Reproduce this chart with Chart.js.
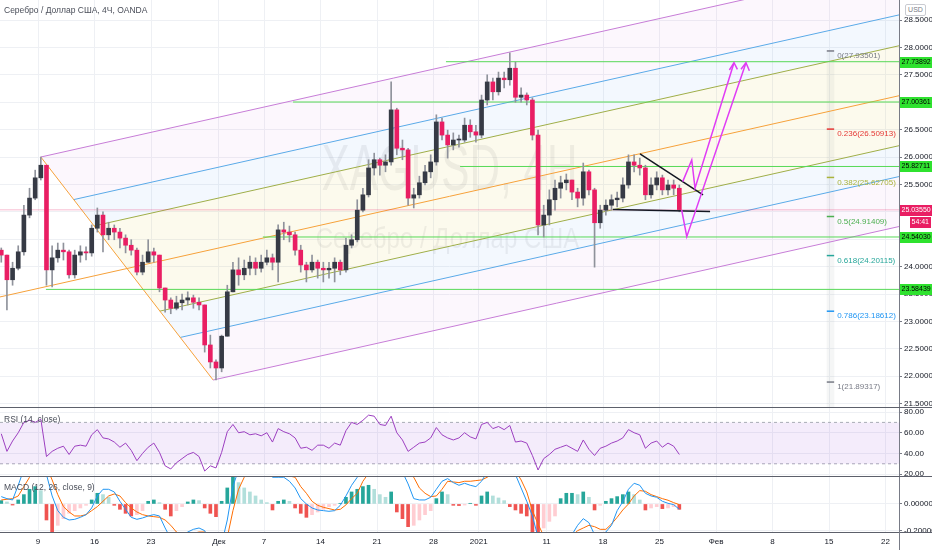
<!DOCTYPE html>
<html>
<head>
<meta charset="utf-8">
<script src="https://cdn.jsdelivr.net/npm/chart.js@4.4.1/dist/chart.umd.min.js"></script>
<style>
  body { margin: 0; background: #fff; }
  #wrap { position: relative; width: 932px; height: 550px; overflow: hidden;
          font-family: 'Liberation Sans Narrow', 'Liberation Sans', Arial, sans-serif; color: #131722; }
  canvas { position: absolute; left: 0; }
  .sep { position: absolute; left: 0; width: 932px; height: 1px; background: #5d606b; }
  .pane-title { position: absolute; left: 4px; font-size: 8.5px; color: #4a4e59; white-space: nowrap; }
  #usd { position: absolute; left: 905px; top: 4px; width: 19px; height: 10px; border: 1px solid #c9cbd1;
         border-radius: 2px; font-size: 7px; line-height: 10px; text-align: center; color: #787b86; background: #fff; }
</style>
</head>
<body>
<div id="wrap">
  <canvas id="priceChart" width="932" height="407" style="top:0px"></canvas>
  <canvas id="rsiChart" width="932" height="68" style="top:408px"></canvas>
  <canvas id="macdChart" width="932" height="73" style="top:477px"></canvas>
  <div class="sep" style="top:407px"></div>
  <div class="sep" style="top:476px"></div>
  <div class="sep" style="top:532px"></div>
  <div style="position:absolute;left:899px;top:532px;width:1px;height:18px;background:#787b86"></div>
  <div class="pane-title" style="top:5px">Серебро / Доллар США, 4Ч, OANDA</div>
  <div class="pane-title" style="top:414px">RSI (14, close)</div>
  <div class="pane-title" style="top:482px">MACD (12, 26, close, 9)</div>
  <div id="usd">USD</div>
</div>
<script>
// Time axis is a trading-day index: 0 = Mon 9 Nov 2020, weekends collapsed
const X_MIN = -3.363;
const X_MAX = 76.19;
const FIRST_BAR = -3.25;
const BAR_STEP = 0.5;

const weekTicks = [0, 5, 10, 16, 20, 25, 30, 35, 39, 45, 50, 55, 60, 65, 70, 75];
const weekLabels = ['9', '16', '23', 'Дек', '7', '14', '21', '28', '2021', '11', '18', '25', 'Фев', '8', '15', '22'];

// XAGUSD candles (half-day bars)
const closes = [
  24.21, 23.76, 23.97, 24.27, 24.94, 25.25, 25.62, 25.85, 23.94, 24.16,
  24.30, 24.27, 23.85, 24.21, 24.27, 24.25, 24.70, 24.94, 24.58, 24.70,
  24.63, 24.52, 24.39, 24.30, 23.90, 24.08, 24.27, 24.21, 23.61, 23.39,
  23.24, 23.34, 23.39, 23.43, 23.35, 23.30, 22.57, 22.26, 22.15, 22.73,
  23.54, 23.94, 23.85, 23.97, 24.08, 23.97, 24.08, 24.16, 24.08, 24.67,
  24.63, 24.58, 24.30, 24.03, 23.94, 24.08, 23.97, 23.94, 23.97, 24.08,
  23.94, 24.39, 24.49, 25.03, 25.31, 25.80, 25.95, 25.85, 25.91, 26.86,
  26.16, 26.13, 25.25, 25.31, 25.53, 25.73, 25.91, 26.64, 26.40, 26.22,
  26.31, 26.31, 26.58, 26.46, 26.40, 27.04, 27.37, 27.19, 27.44, 27.41,
  27.62, 27.09, 27.13, 27.04, 26.40, 24.76, 24.94, 25.22, 25.43, 25.53,
  25.58, 25.36, 25.25, 25.73, 25.40, 24.80, 25.03, 25.12, 25.22, 25.25,
  25.49, 25.91, 25.85, 25.80, 25.31, 25.49, 25.62, 25.40, 25.49, 25.43,
  25.04
];
const highs = [
  24.34, 24.21, 24.08, 24.38, 25.12, 25.43, 25.76, 26.00, 25.85, 24.38,
  24.43, 24.43, 24.30, 24.30, 24.38, 24.36, 24.76, 25.07, 25.00, 24.81,
  24.76, 24.70, 24.58, 24.49, 24.34, 24.21, 24.49, 24.34, 24.21, 23.61,
  23.43, 23.46, 23.50, 23.54, 23.48, 23.43, 23.30, 22.75, 22.30, 22.75,
  23.66, 24.08, 24.16, 24.12, 24.19, 24.16, 24.21, 24.30, 24.23, 24.76,
  24.81, 24.74, 24.63, 24.39, 24.08, 24.21, 24.12, 24.08, 24.08, 24.16,
  24.12, 24.52, 24.58, 25.22, 25.43, 25.95, 26.07, 25.98, 26.04, 27.37,
  26.89, 26.31, 26.16, 25.43, 25.65, 25.85, 26.04, 26.77, 26.71, 26.49,
  26.44, 26.40, 26.71, 26.68, 26.58, 27.13, 27.50, 27.44, 27.55, 27.55,
  27.90, 27.73, 27.26, 27.17, 27.08, 26.49, 25.12, 25.40, 25.58, 25.65,
  25.69, 25.58, 25.43, 25.89, 25.76, 25.43, 25.12, 25.22, 25.31, 25.36,
  25.62, 26.04, 26.04, 25.98, 25.85, 25.62, 25.73, 25.67, 25.58, 25.58,
  25.49
];
const lows = [
  24.08, 23.21, 23.66, 23.94, 24.21, 24.89, 25.22, 25.58, 23.66, 23.63,
  24.08, 24.12, 23.79, 23.79, 24.08, 24.12, 24.19, 24.63, 24.27, 24.49,
  24.49, 24.34, 24.25, 24.21, 23.85, 23.85, 24.08, 24.08, 23.54, 23.17,
  23.14, 23.21, 23.21, 23.30, 23.24, 23.21, 22.44, 22.15, 21.93, 22.08,
  22.73, 23.54, 23.66, 23.76, 23.85, 23.85, 23.90, 24.03, 23.94, 23.72,
  24.49, 24.45, 24.21, 23.90, 23.72, 23.90, 23.79, 23.72, 23.79, 23.72,
  23.85, 23.90, 24.34, 24.45, 25.00, 25.27, 25.67, 25.67, 25.73, 25.85,
  26.04, 25.95, 25.12, 25.07, 25.25, 25.49, 25.62, 25.85, 26.31, 25.98,
  26.13, 26.18, 26.27, 26.36, 26.27, 26.35, 26.95, 27.04, 27.13, 27.26,
  27.31, 27.00, 27.00, 26.95, 26.31, 24.58, 24.54, 24.76, 25.03, 25.25,
  25.40, 25.22, 25.09, 25.12, 25.31, 23.99, 24.70, 24.94, 25.03, 25.09,
  25.18, 25.43, 25.73, 25.67, 25.22, 25.25, 25.40, 25.31, 25.31, 25.31,
  25.00
];
const FIRST_OPEN = 24.30;
const opens = [FIRST_OPEN, ...closes.slice(0, -1)];   // forex bars open at the prior close
const LAST_PRICE = 25.0355;
const COUNTDOWN = '54:41';

// RSI (14, close)
const rsiValues = [
  59, 42, 52, 60, 70, 72, 70, 73, 37, 42,
  45, 47, 39, 47, 48, 47, 58, 63, 55, 54,
  51, 46, 50, 43, 33, 40, 46, 50, 41, 28,
  25, 31, 35, 39, 41, 37, 23, 28, 26, 41,
  61, 68, 60, 61, 58, 59, 57, 60, 51, 64,
  61, 59, 55, 45, 46, 43, 48, 48, 45, 50,
  48, 62, 70, 68, 72, 77, 76, 68, 67, 76,
  60, 53, 42, 46, 50, 51, 55, 65, 58, 55,
  53, 55, 60, 56, 54, 68, 70, 64, 66, 63,
  67, 51, 52, 50, 38, 24, 35, 39, 44, 46,
  48, 45, 42, 53, 44, 38, 45, 47, 50, 52,
  55, 63, 60, 58, 45, 50, 52, 46, 50, 47,
  39
];
const rsiBand = [30, 70];

// MACD (12, 26, close, 9)
const macdValues = [
  0.055, 0.04, 0.03, 0.14, 0.26, 0.33, 0.37, 0.38, 0.22, 0.06,
  -0.05, -0.1, -0.12, -0.115, -0.1, -0.08, -0.03, 0.06, 0.11, 0.11,
  0.09, 0.02, -0.04, -0.1, -0.115, -0.105, -0.09, -0.08, -0.09, -0.18,
  -0.26, -0.28, -0.25, -0.21, -0.19, -0.18, -0.2, -0.3, -0.36, -0.3,
  -0.12, 0.13, 0.26, 0.32, 0.35, 0.34, 0.31, 0.26, 0.2, 0.2,
  0.2, 0.17, 0.12, 0.04, 0.0, -0.03, -0.045, -0.05, -0.055, -0.05,
  -0.01, 0.06, 0.14, 0.2, 0.27, 0.33, 0.36, 0.37, 0.36, 0.4,
  0.34, 0.24, 0.15, 0.04, 0.03, 0.03, 0.05, 0.11, 0.17, 0.19,
  0.16, 0.14, 0.155, 0.14, 0.13, 0.17, 0.24, 0.28, 0.3, 0.31,
  0.3, 0.22, 0.12, 0.02, -0.09, -0.25, -0.33, -0.36, -0.35, -0.3,
  -0.26, -0.23, -0.16, -0.11, -0.14, -0.23, -0.25, -0.21, -0.16, -0.05,
  0.017, 0.11, 0.155, 0.14, 0.08, 0.06, 0.05, 0.02, 0.005, -0.005,
  -0.04
];
const signalValues = [
  0.03, 0.035, 0.04, 0.06, 0.13, 0.2, 0.26, 0.3, 0.28, 0.18,
  0.07, -0.02, -0.06, -0.09, -0.09, -0.08, -0.05, -0.02, 0.02, 0.06,
  0.075, 0.06, 0.01, -0.03, -0.06, -0.08, -0.09, -0.095, -0.1, -0.12,
  -0.16, -0.21, -0.23, -0.23, -0.22, -0.21, -0.21, -0.23, -0.27, -0.29,
  -0.25, -0.05, 0.11, 0.2, 0.25, 0.28, 0.29, 0.28, 0.25, 0.23,
  0.22, 0.21, 0.2, 0.13, 0.08, 0.02, -0.01, -0.025, -0.035, -0.045,
  -0.04, -0.007, 0.04, 0.08, 0.17, 0.23, 0.28, 0.31, 0.33, 0.35,
  0.34, 0.3, 0.24, 0.2, 0.12, 0.08, 0.055, 0.06, 0.11, 0.17,
  0.165, 0.16, 0.17, 0.17, 0.175, 0.18, 0.2, 0.23, 0.26, 0.28,
  0.29, 0.25, 0.18, 0.09, -0.05, -0.15, -0.24, -0.29, -0.31, -0.3,
  -0.28, -0.24, -0.2, -0.18, -0.16, -0.17, -0.19, -0.19, -0.15, -0.1,
  -0.045, 0.0, 0.06, 0.1, 0.095, 0.07, 0.055, 0.04, 0.028, 0.01,
  -0.005
];
const histValues = [
  0.025, 0.015, -0.008, 0.03, 0.07, 0.11, 0.13, 0.10, -0.12, -0.21,
  -0.16, -0.11, -0.07, -0.05, -0.03, -0.01, 0.03, 0.08, 0.07, 0.05,
  -0.01, -0.04, -0.07, -0.09, -0.08, -0.05, 0.02, 0.03, 0.01, -0.04,
  -0.09, -0.05, -0.02, 0.015, 0.03, 0.025, -0.03, -0.07, -0.095, 0.02,
  0.12, 0.2, 0.16, 0.12, 0.09, 0.06, 0.03, 0.01, -0.045, 0.02,
  0.03, 0.02, -0.03, -0.07, -0.1, -0.08, -0.06, -0.04, -0.02, -0.01,
  0.005, 0.05, 0.09, 0.11, 0.13, 0.14, 0.11, 0.07, 0.05, 0.09,
  -0.06, -0.11, -0.17, -0.16, -0.12, -0.08, -0.05, 0.04, 0.09, 0.07,
  -0.01, -0.012, -0.008, 0.005, -0.01, 0.06, 0.09, 0.06, 0.045, 0.025,
  -0.02, -0.045, -0.07, -0.09, -0.21, -0.21, -0.18, -0.13, -0.09, 0.04,
  0.08, 0.08, 0.07, 0.09, 0.05, -0.045, -0.01, 0.02, 0.04, 0.055,
  0.07, 0.09, 0.07, 0.03, -0.045, -0.03, -0.02, -0.035, -0.03, -0.02,
  -0.04
];

// Axis ticks
const priceTicks = [21.5, 22, 22.5, 23, 23.5, 24, 24.5, 25, 25.5, 26, 26.5, 27, 27.5, 28, 28.5];
const rsiTicks = [20, 40, 60, 80];
const macdTicks = [-0.2, 0];
const PRICE_MIN = 21.438, PRICE_MAX = 28.865;
const RSI_MIN = 18.2, RSI_MAX = 83.9;
const MACD_MIN = -0.21, MACD_MAX = 0.202;

// Drawings: [trading day, price]
const pfHandle = [-10, 23.14];
const pfA = [0.25, 26.00];
const pfB = [15.5, 21.93];
const pfLevels = [0, 0.382, 0.618, 1];

const levelPrices = [27.73892, 27.00361, 25.82711, 24.54030, 23.58439];
const levelStarts = [36.1, 22.57, 37.35, 19.9, 0.7];

const fibRatios = ['0', '0.236', '0.382', '0.5', '0.618', '0.786', '1'];
const fibPrices = [27.93501, 26.50913, 25.62705, 24.91409, 24.20115, 23.18612, 21.89317];
const fibSpan = [69.8, 70.45];

const triangleTop = [[53.27, 26.055], [58.85, 25.307]];
const triangleBase = [[50.88, 25.042], [59.47, 25.005]];
const forecastA = [[57.05, 25.55], [57.85, 25.945], [58.14, 25.43], [61.59, 27.72]];
const forecastAHead = [[61.18, 27.588], [61.59, 27.72], [61.89, 27.60]];
const forecastB = [[56.96, 25.033], [57.41, 24.546], [62.65, 27.72]];
const forecastBHead = [[62.21, 27.60], [62.65, 27.72], [62.95, 27.575]];

// Styles
const FONT = "'Liberation Sans Narrow', 'Liberation Sans', Arial, sans-serif";
const TEXT = '#131722';
const AXIS = '#787b86';
const GRID = '#eef0f4';
const UP = '#363a45';
const DOWN = '#e91e63';
const WICK = '#8f929b';
const LEVEL_LINE = '#57d957';
const LEVEL_BOX = '#2fe22f';
const MAGENTA = '#e03cf4';
const pfLineColors = ['#f6a13a', '#9fae48', '#5aaae8', '#c77dd7'];
const pfZoneColors = ['rgba(226, 214, 90, 0.11)', 'rgba(90, 160, 235, 0.07)', 'rgba(199, 125, 215, 0.06)'];
const fibColors = ['#787b86', '#e53935', '#aab33b', '#4caf50', '#26a69a', '#2196f3', '#787b86'];

Chart.defaults.font.family = FONT;

const barTimes = closes.map((_, i) => FIRST_BAR + i * BAR_STEP);
const pt = ([x, y]) => ({ x, y });

function lineSet(points, color, width, order, extra) {
  return Object.assign({
    type: 'line', data: points.map(pt), borderColor: color, borderWidth: width,
    pointRadius: 0, fill: false, tension: 0, order
  }, extra || {});
}

// Pitchfork geometry from its three anchors
const pfMid = [(pfA[0] + pfB[0]) / 2, (pfA[1] + pfB[1]) / 2];
const pfSlope = (pfMid[1] - pfHandle[1]) / (pfMid[0] - pfHandle[0]);
const PF_END = 90;
const pfStart = (k, side) => {
  const p = side > 0 ? pfA : pfB;
  return [pfMid[0] + k * (p[0] - pfMid[0]), pfMid[1] + k * (p[1] - pfMid[1])];
};
const pfEnd = (s) => [PF_END, s[1] + pfSlope * (PF_END - s[0])];

function timeAxis(showLabels) {
  return {
    type: 'linear', min: X_MIN, max: X_MAX, offset: false,
    grid: { color: GRID, drawTicks: false, offset: false },
    border: { display: false },
    ticks: {
      display: showLabels, autoSkip: false, maxRotation: 0, padding: 5, color: TEXT,
      font: { size: 8 }, callback: (v, i) => weekLabels[i]
    },
    afterBuildTicks: (axis) => { axis.ticks = weekTicks.map(v => ({ value: v })); },
    afterFit: (axis) => { axis.height = showLabels ? 18 : 0; axis.paddingLeft = 0; axis.paddingRight = 0; }
  };
}

function valueAxis(min, max, ticks, fmt) {
  return {
    position: 'right', min, max,
    grid: { color: GRID, drawTicks: true, tickLength: 3, tickColor: AXIS },
    border: { display: true, color: AXIS },
    ticks: { color: TEXT, padding: 2, font: { size: 8 }, callback: fmt },
    afterBuildTicks: (axis) => { axis.ticks = ticks.map(v => ({ value: v })); },
    afterFit: (axis) => { axis.width = 33; axis.paddingTop = 0; axis.paddingBottom = 0; }
  };
}

const baseOptions = {
  responsive: false, animation: false, events: [], devicePixelRatio: 1,
  layout: { padding: 0, autoPadding: false },
  plugins: { legend: { display: false }, tooltip: { enabled: false } }
};

// ---------- price pane ----------
const priceDatasets = [];

for (const side of [1, -1]) {
  for (let j = 0; j < 3; j++) {
    const s1 = pfStart(pfLevels[j], side);
    const s2 = pfStart(pfLevels[j + 1], side);
    priceDatasets.push(lineSet([s1, pfEnd(s1), pfEnd(s2), s2, s1], 'rgba(0,0,0,0)', 0, 10,
      { fill: 'shape', backgroundColor: pfZoneColors[j] }));
  }
}
priceDatasets.push(lineSet([pfHandle, pfEnd(pfMid)], pfLineColors[0], 1, 8));
priceDatasets.push(lineSet([pfA, pfB], pfLineColors[0], 1, 8));
for (let j = 1; j < pfLevels.length; j++) {
  for (const side of [1, -1]) {
    const s = pfStart(pfLevels[j], side);
    priceDatasets.push(lineSet([s, pfEnd(s)], pfLineColors[j], 1, 8));
  }
}

priceDatasets.push({
  type: 'bar', data: [{ x: (fibSpan[0] + fibSpan[1]) / 2, y: [PRICE_MIN, fibPrices[0]] }],
  backgroundColor: 'rgba(120, 123, 134, 0.07)', barThickness: 7, grouped: false, order: 9
});
fibPrices.forEach((p, i) => {
  priceDatasets.push(lineSet([[fibSpan[0], p], [fibSpan[1], p]], fibColors[i], 1.5, 6));
});

priceDatasets.push(lineSet([[X_MIN, LAST_PRICE], [X_MAX, LAST_PRICE]], 'rgba(233, 30, 99, 0.3)', 1, 7));
levelPrices.forEach((p, i) => {
  priceDatasets.push(lineSet([[levelStarts[i], p], [X_MAX, p]], LEVEL_LINE, 1, 6));
});

priceDatasets.push({
  type: 'bar', data: barTimes.map((x, i) => ({ x, y: [lows[i], highs[i]] })),
  backgroundColor: WICK, barThickness: 1, grouped: false, order: 3
});
priceDatasets.push({
  type: 'bar', data: barTimes.map((x, i) => ({ x, y: [opens[i], closes[i]] })),
  backgroundColor: closes.map((c, i) => (c >= opens[i] ? UP : DOWN)),
  barThickness: 4, minBarLength: 1, grouped: false, order: 2
});

priceDatasets.push(lineSet(triangleTop, '#131722', 1.5, 1));
priceDatasets.push(lineSet(triangleBase, '#131722', 1.5, 1));
[forecastA, forecastAHead, forecastB, forecastBHead].forEach(path => {
  priceDatasets.push(lineSet(path, MAGENTA, 1.5, 0));
});

function condensedText(ctx, text, x, y, size, squeeze) {
  ctx.save();
  ctx.translate(x, y);
  ctx.scale(squeeze, 1);
  ctx.font = size + "px 'Liberation Sans', Arial, sans-serif";
  ctx.fillText(text, 0, 0);
  ctx.restore();
}

function axisBox(ctx, x, y, w, fill, color, text) {
  ctx.fillStyle = fill;
  ctx.fillRect(x, Math.round(y) - 5, w, 11);
  ctx.fillStyle = color;
  ctx.fillText(text, x + 1.5, Math.round(y) + 0.5);
}

const priceOverlay = {
  id: 'priceOverlay',
  beforeDatasetsDraw(chart) {
    const { ctx, chartArea: a } = chart;
    ctx.save();
    ctx.fillStyle = 'rgba(120, 123, 134, 0.12)';
    ctx.textAlign = 'center';
    ctx.textBaseline = 'middle';
    const cx = (a.left + a.right) / 2;
    condensedText(ctx, 'XAGUSD, 4H', cx, a.top + 172, 64, 0.66);
    condensedText(ctx, 'Серебро / Доллар США', cx - 2, a.top + 240, 30, 0.8);
    ctx.restore();
  },
  afterDraw(chart) {
    const { ctx, chartArea: a, scales: { x, y } } = chart;
    ctx.save();
    ctx.textBaseline = 'middle';
    ctx.textAlign = 'left';
    ctx.font = '8px ' + FONT;
    fibPrices.forEach((p, i) => {
      ctx.fillStyle = fibColors[i];
      ctx.fillText(fibRatios[i] + '(' + p.toFixed(5) + ')', x.getPixelForValue(fibSpan[1]) + 3, y.getPixelForValue(p) + 5);
    });
    ctx.font = '7px ' + FONT;
    levelPrices.forEach(p => axisBox(ctx, a.right + 1, y.getPixelForValue(p), 32, LEVEL_BOX, '#000', p.toFixed(5)));
    const ly = y.getPixelForValue(LAST_PRICE);
    axisBox(ctx, a.right + 1, ly, 32, DOWN, '#fff', LAST_PRICE.toFixed(5));
    axisBox(ctx, a.right + 11, ly + 12, 21, DOWN, '#fff', COUNTDOWN);
    ctx.restore();
  }
};

new Chart(document.getElementById('priceChart'), {
  type: 'bar',
  data: { datasets: priceDatasets },
  options: Object.assign({}, baseOptions, {
    scales: {
      x: timeAxis(false),
      y: valueAxis(PRICE_MIN, PRICE_MAX, priceTicks, v => v.toFixed(5))
    }
  }),
  plugins: [priceOverlay]
});

// ---------- RSI pane ----------
new Chart(document.getElementById('rsiChart'), {
  type: 'line',
  data: {
    datasets: [
      lineSet(barTimes.map((x, i) => [x, rsiValues[i]]), '#9c3fc0', 1, 0),
      lineSet([[X_MIN, rsiBand[1]], [X_MAX, rsiBand[1]]], '#a9acb5', 1, 2,
        { borderDash: [3, 3], fill: '+1', backgroundColor: 'rgba(156, 80, 215, 0.11)' }),
      lineSet([[X_MIN, rsiBand[0]], [X_MAX, rsiBand[0]]], '#a9acb5', 1, 2, { borderDash: [3, 3] })
    ]
  },
  options: Object.assign({}, baseOptions, {
    scales: {
      x: timeAxis(false),
      y: valueAxis(RSI_MIN, RSI_MAX, rsiTicks, v => v.toFixed(2))
    }
  })
});

// ---------- MACD pane ----------
const histColors = histValues.map((v, i) => {
  const prev = i > 0 ? histValues[i - 1] : v;
  if (v >= 0) return v >= prev ? '#26a69a' : '#b2dfdb';
  return v <= prev ? '#ef5350' : '#ffcdd2';
});

new Chart(document.getElementById('macdChart'), {
  type: 'bar',
  data: {
    datasets: [
      lineSet(barTimes.map((x, i) => [x, macdValues[i]]), '#2196f3', 1, 0),
      lineSet(barTimes.map((x, i) => [x, signalValues[i]]), '#ff6d00', 1, 1),
      {
        type: 'bar', data: barTimes.map((x, i) => ({ x, y: histValues[i] })),
        backgroundColor: histColors, barThickness: 3, grouped: false, order: 2
      }
    ]
  },
  options: Object.assign({}, baseOptions, {
    scales: {
      x: timeAxis(true),
      y: valueAxis(MACD_MIN, MACD_MAX, macdTicks, v => v.toFixed(5))
    }
  })
});
</script>
</body>
</html>
